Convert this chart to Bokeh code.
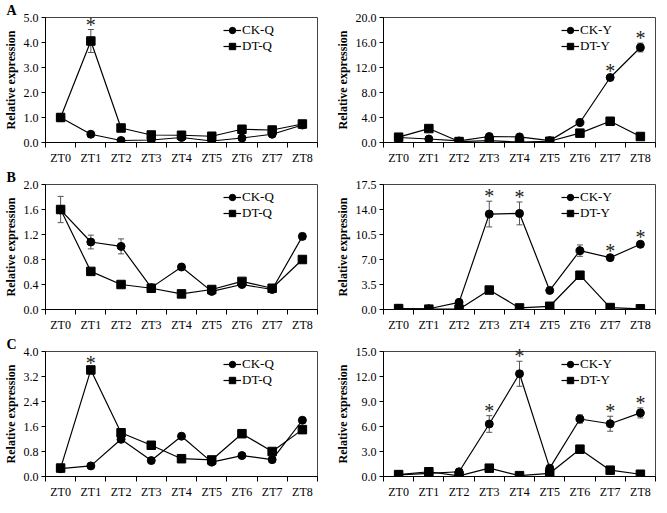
import numpy as np
from bokeh.plotting import figure
from bokeh.layouts import gridplot
from bokeh.models import (ColumnDataSource, FixedTicker, NumeralTickFormatter, Legend,
                          LegendItem, Whisker, Range1d, TeeHead)
from bokeh.core.properties import value
from bokeh.embed import file_html
from bokeh.resources import INLINE

categories = ["ZT0", "ZT1", "ZT2", "ZT3", "ZT4", "ZT5", "ZT6", "ZT7", "ZT8"]

# Panel A
a_ck_q = [1.00, 0.33, 0.08, 0.10, 0.20, 0.06, 0.18, 0.33, 0.70]
a_ck_q_err = [0, 0, 0, 0, 0, 0, 0, 0, 0.03]
a_dt_q = [1.00, 4.06, 0.58, 0.30, 0.29, 0.25, 0.53, 0.50, 0.74]
a_dt_q_err = [0, 0.46, 0, 0, 0, 0, 0, 0, 0]
a_q_sig = [1]
a_ck_y = [0.80, 0.56, 0.25, 0.96, 0.90, 0.30, 3.20, 10.40, 15.20]
a_ck_y_err = [0, 0, 0, 0, 0, 0, 0, 0.3, 0.7]
a_dt_y = [0.85, 2.23, 0.15, 0.30, 0.05, 0.20, 1.50, 3.40, 0.96]
a_dt_y_err = [0, 0, 0, 0, 0, 0, 0, 0, 0]
a_y_sig = [7, 8]

# Panel B
b_ck_q = [1.595, 1.08, 1.01, 0.35, 0.68, 0.29, 0.40, 0.32, 1.17]
b_ck_q_err = [0, 0.11, 0.12, 0, 0, 0, 0, 0, 0.05]
b_dt_q = [1.60, 0.61, 0.40, 0.34, 0.25, 0.32, 0.45, 0.34, 0.80]
b_dt_q_err = [0.21, 0, 0, 0, 0, 0, 0, 0, 0]
b_q_sig = []
b_ck_y = [0.10, 0.10, 1.00, 13.36, 13.45, 2.67, 8.24, 7.26, 9.13]
b_ck_y_err = [0, 0, 0, 1.8, 1.6, 0, 0.8, 0.2, 0.3]
b_dt_y = [0.13, 0.05, 0.05, 2.72, 0.22, 0.45, 4.80, 0.27, 0.10]
b_dt_y_err = [0, 0, 0, 0, 0, 0, 0.3, 0, 0]
b_y_sig = [3, 4, 7, 8]

# Panel C
c_ck_q = [0.25, 0.34, 1.19, 0.51, 1.29, 0.46, 0.67, 0.54, 1.80]
c_ck_q_err = [0, 0, 0.06, 0, 0, 0, 0, 0, 0]
c_dt_q = [0.27, 3.41, 1.40, 1.00, 0.57, 0.53, 1.37, 0.80, 1.50]
c_dt_q_err = [0, 0.06, 0, 0, 0, 0, 0.1, 0, 0]
c_q_sig = [1]
c_ck_y = [0.19, 0.38, 0.57, 6.30, 12.33, 1.00, 6.90, 6.33, 7.63]
c_ck_y_err = [0, 0, 0, 1.0, 1.5, 0, 0.5, 0.9, 0.6]
c_dt_y = [0.23, 0.57, 0.08, 1.00, 0.10, 0.38, 3.28, 0.76, 0.27]
c_dt_y_err = [0, 0, 0, 0, 0, 0, 0, 0, 0]
c_y_sig = [3, 4, 7, 8]

y_ticks_a_q = [0, 1, 2, 3, 4, 5]
y_ticks_a_y = [0, 4, 8, 12, 16, 20]
y_ticks_b_q = [0, 0.4, 0.8, 1.2, 1.6, 2.0]
y_ticks_b_y = [0, 3.5, 7, 10.5, 14, 17.5]
y_ticks_c_q = [0, 0.8, 1.6, 2.4, 3.2, 4.0]
y_ticks_c_y = [0, 3, 6, 9, 12, 15]

FONT = "Liberation Serif"
FRAME_W = 272
FRAME_H = 125


def make_panel(ck, ck_err, dt, dt_err, sig, y_ticks, ck_label, dt_label, letter, left):
    n = len(categories)
    x = np.arange(n) + 0.5
    bl, br = (40, 10) if left else (56, 1)
    p = figure(frame_width=FRAME_W, frame_height=FRAME_H,
               x_range=Range1d(0, n), y_range=Range1d(0, y_ticks[-1]),
               output_backend="svg", toolbar_location=None,
               min_border_left=bl, min_border_right=br,
               min_border_top=4, min_border_bottom=20)
    p.title.text = letter if letter else " "
    p.title.align = "left"
    p.title.offset = -bl + 1
    p.title.standoff = 0
    p.title.text_font = FONT
    p.title.text_font_size = "14px"
    p.title.text_font_style = "bold"
    p.title.text_color = "black"

    p.xgrid.visible = False
    p.ygrid.visible = False
    p.outline_line_color = "#444444"
    p.outline_line_width = 1

    xa = p.xaxis[0]
    xa.ticker = FixedTicker(ticks=list(x), minor_ticks=list(range(n + 1)))
    xa.major_label_overrides = {float(xi): c for xi, c in zip(x, categories)}
    xa.major_tick_line_color = None
    xa.major_tick_out = 0
    xa.major_tick_in = 0
    xa.minor_tick_line_color = "black"
    xa.minor_tick_out = 5
    xa.minor_tick_in = 0
    xa.major_label_standoff = 3
    xa.axis_line_color = "black"
    xa.major_label_text_font = FONT
    xa.major_label_text_font_size = "12px"
    xa.major_label_text_color = "black"

    ya = p.yaxis[0]
    ya.ticker = FixedTicker(ticks=y_ticks)
    ya.formatter = NumeralTickFormatter(format="0.0")
    ya.major_tick_out = 4
    ya.major_tick_in = 0
    ya.minor_tick_line_color = None
    ya.major_label_standoff = 3
    ya.axis_line_color = "black"
    ya.major_label_text_font = FONT
    ya.major_label_text_font_size = "12px"
    ya.major_label_text_color = "black"
    ya.axis_label = "Relative expression"
    ya.axis_label_text_font = FONT
    ya.axis_label_text_font_size = "12px"
    ya.axis_label_text_font_style = "bold"
    ya.axis_label_text_color = "black"
    ya.axis_label_standoff = 3

    # error bars
    for vals, errs in ((ck, ck_err), (dt, dt_err)):
        idx = [i for i, e in enumerate(errs) if e > 0]
        if idx:
            src = ColumnDataSource(dict(
                x=[float(x[i]) for i in idx],
                upper=[vals[i] + errs[i] for i in idx],
                lower=[vals[i] - errs[i] for i in idx]))
            w = Whisker(source=src, base="x", upper="upper", lower="lower",
                        line_color="#555555", line_width=1,
                        upper_head=TeeHead(size=6, line_color="#555555", line_width=1),
                        lower_head=TeeHead(size=6, line_color="#555555", line_width=1))
            p.add_layout(w)

    l1 = p.line(x, ck, line_color="black", line_width=1.2)
    s1 = p.scatter(x, ck, marker="circle", size=8, color="black")
    l2 = p.line(x, dt, line_color="black", line_width=1.2)
    s2 = p.scatter(x, dt, marker="square", size=8.5, color="black")

    if sig:
        tops = [max(ck[i] + ck_err[i], dt[i] + dt_err[i]) for i in sig]
        p.text(x=[float(x[i]) for i in sig], y=tops, text=["*"] * len(sig),
               text_font=value(FONT), text_font_size="20px", text_align="center",
               text_baseline="alphabetic", y_offset=-5, text_color="#222222",
               level="overlay")

    legend = Legend(items=[LegendItem(label=ck_label, renderers=[l1, s1]),
                           LegendItem(label=dt_label, renderers=[l2, s2])],
                    location=(178, FRAME_H - 5 - 32),
                    glyph_width=18, glyph_height=16, label_height=16,
                    label_standoff=1, spacing=0, padding=0, margin=0,
                    border_line_color=None, background_fill_alpha=0,
                    label_text_font=FONT, label_text_font_size="13px",
                    label_text_color="black")
    p.add_layout(legend)
    return p


pa1 = make_panel(a_ck_q, a_ck_q_err, a_dt_q, a_dt_q_err, a_q_sig, y_ticks_a_q, "CK-Q", "DT-Q", "A", True)
pa2 = make_panel(a_ck_y, a_ck_y_err, a_dt_y, a_dt_y_err, a_y_sig, y_ticks_a_y, "CK-Y", "DT-Y", None, False)
pb1 = make_panel(b_ck_q, b_ck_q_err, b_dt_q, b_dt_q_err, b_q_sig, y_ticks_b_q, "CK-Q", "DT-Q", "B", True)
pb2 = make_panel(b_ck_y, b_ck_y_err, b_dt_y, b_dt_y_err, b_y_sig, y_ticks_b_y, "CK-Y", "DT-Y", None, False)
pc1 = make_panel(c_ck_q, c_ck_q_err, c_dt_q, c_dt_q_err, c_q_sig, y_ticks_c_q, "CK-Q", "DT-Q", "C", True)
pc2 = make_panel(c_ck_y, c_ck_y_err, c_dt_y, c_dt_y_err, c_y_sig, y_ticks_c_y, "CK-Y", "DT-Y", None, False)

p = gridplot([[pa1, pa2], [pb1, pb2], [pc1, pc2]], toolbar_location=None)

open("out.html", "w").write(file_html(p, INLINE))
